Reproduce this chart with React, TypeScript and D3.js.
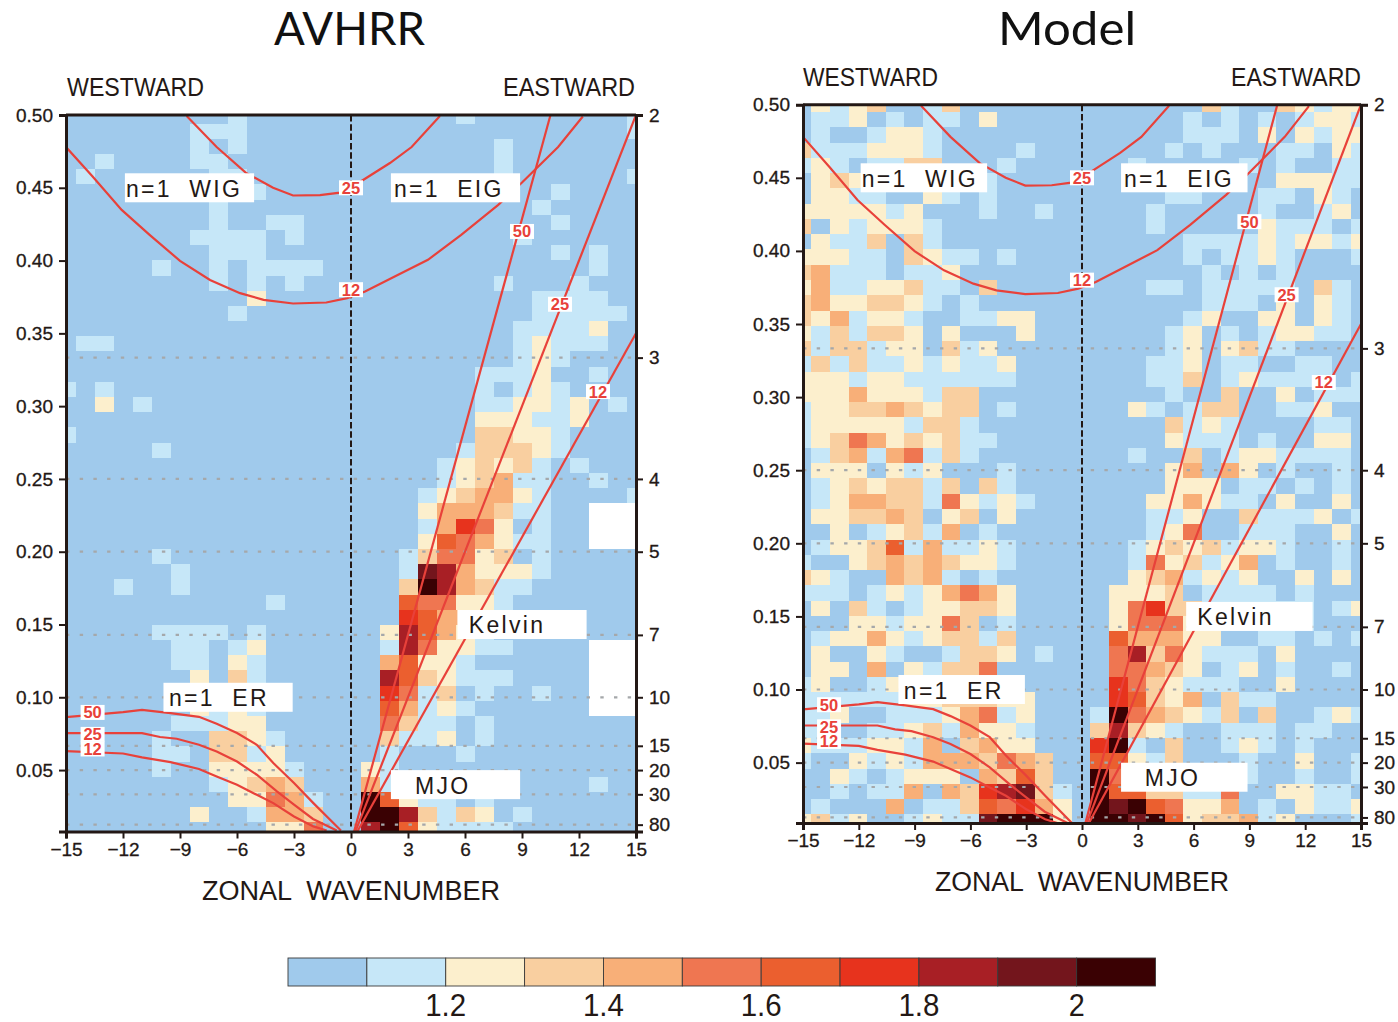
import React, { useEffect, useRef } from "react";
import * as d3 from "d3";

// power ratio classes, one character per cell: 0-9 and a = class, x = no data
// rows run from frequency 48/96 (top) down to 1/96, west columns are k=-15..-1, east columns k=1..15
const avhrrWest = [
  "000000000100000", "000000011100000", "000000010100000", "001000011000000", "010000001100000", "000000000010000",
  "000000001000000", "000000001001100", "000000011110100", "000000001110000", "000001001011110", "000000001010100",
  "000000000020000", "000000000100000", "000000000000000", "011000000000000", "000000000000000", "000000000000000",
  "101000000000000", "002010000000000", "000000000000000", "100000000000000", "000001000000000", "000000000000000",
  "000000000000000", "000000000000000", "000000000000000", "000000000000000", "000000000000000", "000001000000000",
  "000000100000000", "000100100000000", "000000000001000", "000000000000000", "000001111010000", "000000110120000",
  "000000110210000", "000000020310000", "000000020310000", "000000021210000", "000000111220000", "000001003321000",
  "000001103312000", "000001002222100", "000000001234300", "000000000225410", "000000020014430", "000000000002250",
];
const avhrrEast = [
  "000001000000001", "000000000000001", "000000010000000", "000000010000000", "000000010000001", "000000000010000",
  "000000000100000", "000000000010000", "000000001000000", "000000000010100", "000000000000100", "000000010001000",
  "000000000111100", "000000000111110", "000000001111200", "000000001211100", "000000001210000", "000000111200100",
  "000000101210000", "000000112212010", "000000222112000", "000000332210000", "000001333210000", "000012323101000",
  "000012341100100", "000123442100001", "000244431100xxx", "000147520100xxx", "000265421100xxx", "001355230100000",
  "001984222100000", "003a84311000000", "006552210000000", "007644100000000", "028642100000000", "018522110000xxx",
  "046221000000xxx", "086321110000xxx", "075130100100xxx", "064121000000xxx", "053110100000000", "031120100000000",
  "010001000000000", "210000000000000", "410000000000100", "a62110100000000", "aa8313201000000", "8a6211110000000",
];
const modelWest = [
  "021230013000000", "011201011020000", "010012210000000", "311122210000100", "121011330001000", "023211111010000",
  "022110021010000", "222221200010010", "302122210000000", "021130310000000", "222110321101000", "341110112000000",
  "241122311030000", "342233210100000", "324122100112200", "213133202000200", "313312203120000", "131311212112000",
  "222122111111000", "222422213300000", "122334323301000", "122222133100000", "123542323110000", "013414513100000",
  "022202120001000", "012323313031000", "012443315212100", "022334302302000", "002012314010000", "012236141121000",
  "100234343221000", "321004341010000", "111012124542000", "020310122332000", "000221225301000", "012242123313000",
  "020021001332010", "022040213350000", "120012223332000", "111111223332200", "112001112451200", "110011231422100",
  "211122140342200", "100212144435430", "002101222043630", "001011404378931", "010004011365742", "23120012119aaa2",
];
const modelEast = [
  "000000310032122", "000001010101221", "000001110202122", "000010100011021", "001000001010011", "000000000022211",
  "000011000110210", "000100000100120", "000100000211101", "000001111212212", "000001011210001", "000000101010000",
  "000110111110310", "000000111020210", "000001200220210", "000012010122110", "000012023110000", "000112011001100",
  "000113012111101", "000010030020111", "002101330011200", "000031210000110", "000021110100220", "001003012211110",
  "000024042010010", "000022201101010", "000224211020020", "000112003111201", "000125001110020", "001232312210010",
  "001523124010010", "002341212002020", "022230111101000", "025733111111012", "025552211111000", "064442200110101",
  "058352111020000", "055432012010010", "075321110020000", "076324031100000", "1a5432130300121", "383210011101100",
  "7a1030012101000", "662130001002001", "a53331111001001", "a66331150022110", "a9a652240102112", "aa9a62334120001",
];

const classColors = ["#A0CAEC", "#C6E7F8", "#FCEFCD", "#F9CFA0", "#F8AF78", "#EF7651", "#EB5F2F", "#E7331D", "#A81F25", "#73151C", "#3A0103"];
const classEdges = [1.1, 1.2, 1.3, 1.4, 1.5, 1.6, 1.7, 1.8, 1.9, 2.0];
const legendTicks = [1.2, 1.4, 1.6, 1.8, 2];

const freqTicks = [0.05, 0.1, 0.15, 0.2, 0.25, 0.3, 0.35, 0.4, 0.45, 0.5];
const waveTicks = [-15, -12, -9, -6, -3, 0, 3, 6, 9, 12, 15];
const periodTicks = [2, 3, 4, 5, 7, 10, 15, 20, 30, 80];

// dispersion curves as [wavenumber, frequency]
const wig25: [number, number][] = [[-8.65, 0.4993], [-7.07, 0.478], [-5.5, 0.46], [-4.1, 0.45], [-3.05, 0.4447], [-1.63, 0.4449], [-0.58, 0.4467], [0, 0.45], [0.47, 0.454], [2.05, 0.467], [3.19, 0.478], [4.68, 0.4993]];
const wig12: [number, number][] = [[-15, 0.478], [-13.6, 0.4577], [-12.07, 0.4348], [-10.6, 0.4177], [-9, 0.3998], [-7.42, 0.3867], [-5.84, 0.3776], [-4.6, 0.373], [-3.05, 0.3705], [-1.3, 0.3712], [-0.2, 0.3742], [0.74, 0.3787], [2.3, 0.389], [4.05, 0.4005], [5.8, 0.4177], [7.75, 0.4383], [9, 0.4536], [10.9, 0.478], [12.2, 0.499]];
const kelvin50: [number, number][] = [[0, 0], [10.5, 0.5]];
const kelvin25: [number, number][] = [[0, 0], [15, 0.5]];
const kelvin12: [number, number][] = [[0, 0], [15, 0.35]];
const er50: [number, number][] = [[-15, 0.0864], [-12, 0.0898], [-11, 0.0914], [-9.5, 0.0891], [-8, 0.0866], [-7.07, 0.0818], [-6, 0.0754], [-4.96, 0.0674], [-4.09, 0.0548], [-3, 0.0411], [-1.98, 0.0273], [-0.53, 0.0085]];
const er25: [number, number][] = [[-15, 0.0754], [-11, 0.0754], [-10.05, 0.0727], [-9.17, 0.0715], [-8, 0.0674], [-7.07, 0.0628], [-6, 0.0559], [-4.96, 0.0468], [-3.9, 0.0353], [-3, 0.0262], [-2, 0.0164], [-0.75, 0.0085]];
const er12: [number, number][] = [[-15, 0.063], [-12, 0.0614], [-11, 0.0587], [-9.5, 0.0555], [-8, 0.0507], [-7.07, 0.0456], [-6, 0.0399], [-4.96, 0.033], [-4.09, 0.0273], [-3, 0.0181], [-1.98, 0.0113], [-1.28, 0.0085]];
const allCurves = [wig25, wig12, kelvin50, kelvin25, kelvin12, er50, er25, er12];

const depthLabels: [string, number, number][] = [
  ["25", 0, 0.45], ["12", 0, 0.38], ["50", 9, 0.42], ["25", 11, 0.37], ["12", 13, 0.31],
  ["50", -13.6, 0.0896], ["25", -13.6, 0.0745], ["12", -13.6, 0.0645],
];
// text, left edge of box, frequency, start of text
const waveLabels: [string, number, number, number][] = [
  ["n=1  WIG", -11.9, 0.45, -11.84],
  ["n=1  EIG", 2.1, 0.45, 2.26],
  ["Kelvin", 5.6, 0.15, 6.2],
  ["n=1  ER", -9.87, 0.1, -9.58],
  ["MJO", 2.1, 0.04, 3.37],
];

const red = "#E8413A";
const ink = "#231815";
const sans = "'Liberation Sans', Arial, sans-serif";

function drawPanel(svg: any, p: any) {
  const x = d3.scaleLinear().domain([-15, 15]).range([p.left, p.right]);
  const y = d3.scaleLinear().domain([0.5, p.freqBottom]).range([p.top, p.bottom]);
  // cell raster sits about a pixel off the axes in the original
  const xCell = d3.scaleLinear().domain([-15, 15]).range([p.left + p.cellShift, p.right + p.cellShift]);
  const yCell = d3.scaleLinear().domain([48 / 96, 1 / 96]).range([p.rowFirst, p.rowLast]);
  const color = d3.scaleThreshold<number, string>().domain(classEdges).range(classColors);

  const g = svg.append("g");
  g.append("clipPath").attr("id", p.id).append("rect")
    .attr("x", p.left).attr("y", p.top).attr("width", p.right - p.left).attr("height", p.bottom - p.top);

  const plot = g.append("g").attr("clip-path", `url(#${p.id})`);
  plot.append("rect").attr("x", p.left).attr("y", p.top).attr("width", p.right - p.left).attr("height", p.bottom - p.top)
    .attr("fill", classColors[0]);

  const cells: any[] = [];
  p.west.forEach((row: string, r: number) => {
    const line = row + "0" + p.east[r];
    line.split("").forEach((ch: string, c: number) => {
      if (ch === "0") return;
      cells.push({ k: c - 15, f: (48 - r) / 96, v: ch === "x" ? NaN : 1.05 + 0.1 * parseInt(ch, 11) });
    });
  });
  const cw = Math.abs(xCell(1) - xCell(0));
  const ch = Math.abs(yCell(1 / 96) - yCell(2 / 96));
  plot.selectAll("rect.cell").data(cells).join("rect").attr("class", "cell")
    .attr("x", (d: any) => xCell(d.k) - cw / 2)
    .attr("y", (d: any) => yCell(d.f) - ch / 2)
    .attr("width", cw).attr("height", ch)
    .attr("shape-rendering", "crispEdges")
    .attr("fill", (d: any) => (isNaN(d.v) ? "#fff" : color(d.v)));

  // constant period lines
  plot.selectAll("line.period").data(periodTicks.slice(1)).join("line").attr("class", "period")
    .attr("x1", p.left).attr("x2", p.right)
    .attr("y1", (d: number) => y(1 / d)).attr("y2", (d: number) => y(1 / d))
    .attr("stroke", "#A5A8AA").attr("stroke-width", 2.2).attr("stroke-dasharray", "3.4 10.3");

  plot.append("line").attr("x1", x(0)).attr("x2", x(0)).attr("y1", p.top).attr("y2", p.bottom - 5)
    .attr("stroke", ink).attr("stroke-width", 2).attr("stroke-dasharray", "6.5 2.8");

  const line = d3.line<[number, number]>().x((d) => x(d[0])).y((d) => y(d[1]));
  plot.selectAll("path.curve").data(allCurves).join("path").attr("class", "curve")
    .attr("d", (d: any) => line(d)).attr("fill", "none").attr("stroke", red).attr("stroke-width", 2.2);

  // boxed labels of the wave types
  const boxes = g.selectAll("g.wave").data(waveLabels).join("g").attr("class", "wave");
  boxes.append("rect").attr("x", (d: any) => x(d[1])).attr("y", (d: any) => y(d[2]) - 14.5)
    .attr("width", 6.8 * cw).attr("height", 29).attr("fill", "#fff");
  boxes.append("text").attr("x", (d: any) => x(d[3])).attr("y", (d: any) => y(d[2]) + 9)
    .attr("font-family", sans).attr("font-size", 23).attr("fill", ink).attr("letter-spacing", 2.3)
    .style("white-space", "pre").text((d: any) => d[0]);

  const depth = g.selectAll("g.depth").data(depthLabels).join("g").attr("class", "depth");
  depth.append("rect").attr("x", (d: any) => x(d[1]) - 12).attr("y", (d: any) => y(d[2]) - 7.5)
    .attr("width", 24).attr("height", 15).attr("fill", "#fff");
  depth.append("text").attr("x", (d: any) => x(d[1])).attr("y", (d: any) => y(d[2]) + 6)
    .attr("text-anchor", "middle").attr("font-family", sans).attr("font-weight", 700).attr("font-size", 16.5)
    .attr("fill", red).text((d: any) => d[0]);

  g.append("path").attr("d", `M${p.left},${p.top}H${p.right}`).attr("stroke", ink).attr("stroke-width", 3);

  const styleAxis = (a: any) => {
    a.selectAll("path.domain").attr("stroke", ink).attr("stroke-width", 3);
    a.selectAll(".tick line").attr("stroke", ink).attr("stroke-width", 2);
    a.selectAll("text").attr("font-family", sans).attr("font-size", 19).attr("fill", ink)
      .attr("stroke", ink).attr("stroke-width", 0.3);
  };
  g.append("g").attr("transform", `translate(${p.left},0)`)
    .call(d3.axisLeft(y).tickValues(freqTicks).tickFormat(d3.format(".2f") as any).tickSizeOuter(0).tickSize(7).tickPadding(6))
    .call(styleAxis);
  g.append("g").attr("transform", `translate(${p.right},0)`)
    .call(d3.axisRight(y).tickValues(periodTicks.map((d) => 1 / d)).tickFormat((d: any) => String(Math.round(1 / d))).tickSizeOuter(0).tickSize(7).tickPadding(6))
    .call(styleAxis);
  g.append("g").attr("transform", `translate(0,${p.bottom})`)
    .call(d3.axisBottom(x).tickValues(waveTicks).tickFormat((d: any) => String(d).replace("-", "\u2212")).tickSizeOuter(0).tickSize(7).tickPadding(4))
    .call(styleAxis);

  const title = (txt: string, xx: number, yy: number, size: number, len: number, fam: string) =>
    g.append("text").attr("x", xx).attr("y", yy).attr("font-family", fam).attr("font-size", size).attr("fill", fam === sans ? ink : "#111")
      .attr("textLength", len).attr("lengthAdjust", "spacingAndGlyphs").style("white-space", "pre").text(txt);
  title(p.title, p.titleX, 45, 47, p.titleLen, "Lato, sans-serif");
  title("WESTWARD", p.westX, p.top - 19, 25, p.westLen, sans);
  title("EASTWARD", p.eastX, p.top - 19, 25, p.eastLen, sans);
  title("ZONAL  WAVENUMBER", p.xlabelX, p.bottom + 68, 27, p.xlabelLen, sans);
}

function drawLegend(svg: any) {
  const x = d3.scaleLinear().domain([1, 2.1]).range([288, 1155.5]);
  const edges = [1, ...classEdges];
  const g = svg.append("g");
  g.selectAll("rect").data(classColors).join("rect")
    .attr("x", (_: string, i: number) => x(edges[i]))
    .attr("width", (_: string, i: number) => x(edges[i] + 0.1) - x(edges[i]))
    .attr("y", 958).attr("height", 28)
    .attr("fill", (d: string) => d)
    .attr("stroke", "#3a3a3a").attr("stroke-width", 0.9);
  g.selectAll("text").data(legendTicks).join("text")
    .attr("x", (d: number) => x(d)).attr("y", 1015.5).attr("text-anchor", "middle")
    .attr("font-family", sans).attr("font-size", 30.5).attr("fill", ink)
    .attr("textLength", (d: number) => (d === 2 ? 16 : 41)).attr("lengthAdjust", "spacingAndGlyphs")
    .text((d: number) => String(d));
}

export default function App() {
  const ref = useRef<SVGSVGElement>(null);
  useEffect(() => {
    const svg = d3.select(ref.current);
    svg.selectAll("*").remove();
    drawPanel(svg, {
      id: "clip-avhrr", title: "AVHRR", titleX: 274, titleLen: 151, west: avhrrWest, east: avhrrEast,
      left: 66, right: 636, top: 115, bottom: 831.5, freqBottom: 0.0078,
      rowFirst: 116, rowLast: 830, cellShift: 0, xlabelX: 202, xlabelLen: 298,
      westX: 67, westLen: 137, eastX: 503, eastLen: 132,
    });
    drawPanel(svg, {
      id: "clip-model", title: "Model", titleX: 998, titleLen: 138, west: modelWest, east: modelEast,
      left: 803, right: 1361, top: 104.7, bottom: 823, freqBottom: 0.0087,
      rowFirst: 104.4, rowLast: 822, cellShift: -1, xlabelX: 935, xlabelLen: 294,
      westX: 803, westLen: 135, eastX: 1231, eastLen: 130,
    });
    drawLegend(svg);
  }, []);
  return <svg ref={ref} width={1398} height={1022} style={{ position: "absolute", left: 0, top: 0, background: "#fff" }} />;
}
